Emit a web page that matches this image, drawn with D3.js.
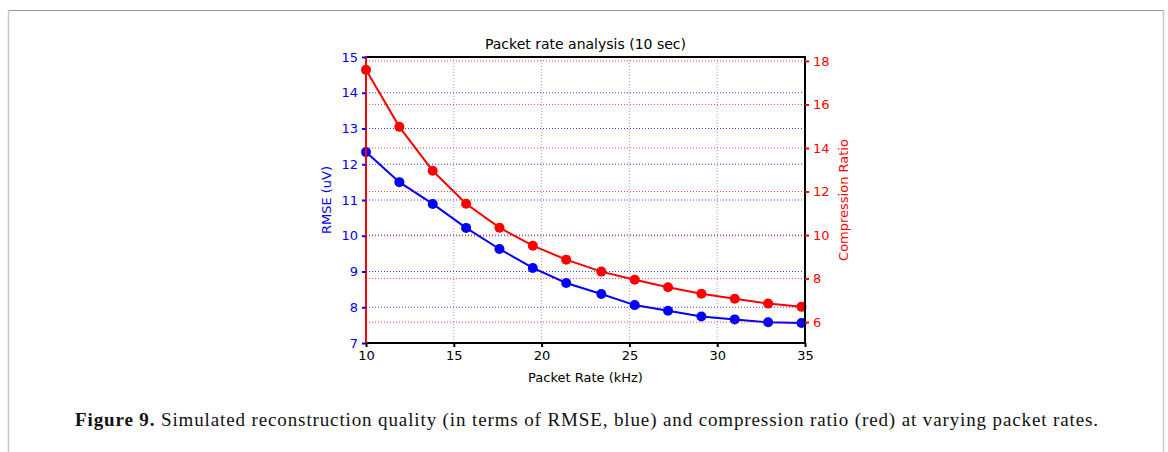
<!DOCTYPE html>
<html><head><meta charset="utf-8">
<script src="https://cdn.jsdelivr.net/npm/d3@7"></script>
<style>
body{margin:0;background:#fff;}
svg{display:block;}
</style></head>
<body>
<svg id="c" width="1168" height="452"></svg>
<script>
const packetRate = [10, 11.9, 13.8, 15.7, 17.6, 19.5, 21.4, 23.4, 25.3, 27.2, 29.1, 31.0, 32.9, 34.8];
const rmse = [12.34, 11.5, 10.89, 10.22, 9.63, 9.1, 8.68, 8.37, 8.06, 7.9, 7.74, 7.66, 7.58, 7.56];
const compression = [17.59, 14.97, 12.95, 11.44, 10.34, 9.51, 8.87, 8.32, 7.95, 7.6, 7.3, 7.07, 6.85, 6.7];
const xTicks = [10, 15, 20, 25, 30, 35];
const yLeftTicks = [7, 8, 9, 10, 11, 12, 13, 14, 15];
const yRightTicks = [6, 8, 10, 12, 14, 16, 18];

const svg = d3.select("#c");
const L = 366, R = 805, T = 57, B = 343;
const x = d3.scaleLinear().domain([10, 35]).range([L, R]);
const yL = d3.scaleLinear().domain([7, 15]).range([B, T]);
const yR = d3.scaleLinear().domain([5.04, 18.18]).range([B, T]);
const font = "DejaVu Sans, sans-serif";

// frame
svg.append("line").attr("x1",8).attr("x2",1163).attr("y1",10.5).attr("y2",10.5).attr("stroke","#999").attr("stroke-width",1);
svg.append("line").attr("x1",8.5).attr("x2",8.5).attr("y1",10).attr("y2",452).attr("stroke","#c8c8c8").attr("stroke-width",1.5);
svg.append("line").attr("x1",1163.5).attr("x2",1163.5).attr("y1",10).attr("y2",452).attr("stroke","#c8c8c8").attr("stroke-width",1.5);

const g = svg.append("g");
// vertical grid
g.selectAll(".vg").data(xTicks.filter(d=>d>10&&d<35)).join("line")
  .attr("x1",d=>x(d)).attr("x2",d=>x(d)).attr("y1",T).attr("y2",B)
  .attr("stroke","#8080ff").attr("stroke-opacity",0.8).attr("stroke-width",1).attr("stroke-dasharray","1,2");
// left horizontal grid
g.selectAll(".hg").data(yLeftTicks.filter(d=>d>7&&d<15)).join("line")
  .attr("x1",L).attr("x2",R).attr("y1",d=>yL(d)).attr("y2",d=>yL(d))
  .attr("stroke","#0000ff").attr("stroke-opacity",0.75).attr("stroke-width",1).attr("stroke-dasharray","1,2");

// blue series
g.append("path").datum(packetRate.map((d,i)=>[d,rmse[i]]))
  .attr("fill","none").attr("stroke","#0000ff").attr("stroke-width",2)
  .attr("d", d3.line().x(d=>x(d[0])).y(d=>yL(d[1])));
g.selectAll(".bp").data(packetRate.map((d,i)=>[d,rmse[i]])).join("circle")
  .attr("cx",d=>x(d[0])).attr("cy",d=>yL(d[1])).attr("r",5).attr("fill","#0000ff");

// right grid
g.selectAll(".rg").data(yRightTicks).join("line")
  .attr("x1",L).attr("x2",R).attr("y1",d=>yR(d)).attr("y2",d=>yR(d))
  .attr("stroke","#ff0000").attr("stroke-opacity",0.75).attr("stroke-width",1).attr("stroke-dasharray","1,2");

// red series
g.append("path").datum(packetRate.map((d,i)=>[d,compression[i]]))
  .attr("fill","none").attr("stroke","#ff0000").attr("stroke-width",2)
  .attr("d", d3.line().x(d=>x(d[0])).y(d=>yR(d[1])));
g.selectAll(".rp").data(packetRate.map((d,i)=>[d,compression[i]])).join("circle")
  .attr("cx",d=>x(d[0])).attr("cy",d=>yR(d[1])).attr("r",5).attr("fill","#ff0000");

// spines
svg.append("line").attr("x1",L).attr("x2",R).attr("y1",T).attr("y2",T).attr("stroke","#000").attr("stroke-width",2);
svg.append("line").attr("x1",L-1).attr("x2",R+1).attr("y1",B).attr("y2",B).attr("stroke","#000").attr("stroke-width",2);
svg.append("line").attr("x1",R).attr("x2",R).attr("y1",T-1).attr("y2",B+1).attr("stroke","#000").attr("stroke-width",2);
svg.append("line").attr("x1",L).attr("x2",L).attr("y1",T-1).attr("y2",B+1).attr("stroke","#ff0000").attr("stroke-width",2);

// axes
function styleAxis(sel, color){
  sel.select(".domain").remove();
  sel.selectAll(".tick line").attr("stroke",color).attr("stroke-width",2);
  sel.selectAll(".tick text").attr("fill",color).attr("font-family",font).attr("font-size","13px");
}
svg.append("g").attr("transform",`translate(0,${B})`)
  .call(d3.axisBottom(x).tickValues(xTicks).tickFormat(d3.format("d")).tickSize(4).tickPadding(4))
  .call(s=>styleAxis(s,"#000"));
svg.append("g").attr("transform",`translate(${L},0)`)
  .call(d3.axisLeft(yL).tickValues(yLeftTicks).tickFormat(d3.format("d")).tickSize(4).tickPadding(4))
  .call(s=>styleAxis(s,"#0000ff"));
svg.append("g").attr("transform",`translate(${R},0)`)
  .call(d3.axisRight(yR).tickValues(yRightTicks).tickFormat(d3.format("d")).tickSize(4).tickPadding(4))
  .call(s=>styleAxis(s,"#ff0000"));

// labels
svg.append("text").attr("x",(L+R)/2).attr("y",49).attr("text-anchor","middle")
  .attr("font-family",font).attr("font-size","14px").attr("fill","#000").text("Packet rate analysis (10 sec)");
svg.append("text").attr("x",(L+R)/2).attr("y",382).attr("text-anchor","middle")
  .attr("font-family",font).attr("font-size","13px").attr("fill","#000").text("Packet Rate (kHz)");
svg.append("text").attr("transform",`translate(331,200) rotate(-90)`).attr("text-anchor","middle")
  .attr("font-family",font).attr("font-size","13px").attr("fill","#0000ff").text("RMSE (uV)");
svg.append("text").attr("transform",`translate(848,200) rotate(-90)`).attr("text-anchor","middle")
  .attr("font-family",font).attr("font-size","13px").attr("fill","#ff0000").text("Compression Ratio");

// caption
const cap = svg.append("text").attr("x",75).attr("y",426)
  .attr("font-family","Liberation Serif, Times New Roman, serif").attr("font-size","19px").attr("fill","#111")
  .attr("textLength",1023).attr("lengthAdjust","spacing");
cap.append("tspan").attr("font-weight","bold").text("Figure 9.");
cap.append("tspan").text(" Simulated reconstruction quality (in terms of RMSE, blue) and compression ratio (red) at varying packet rates.");
</script>
</body></html>
